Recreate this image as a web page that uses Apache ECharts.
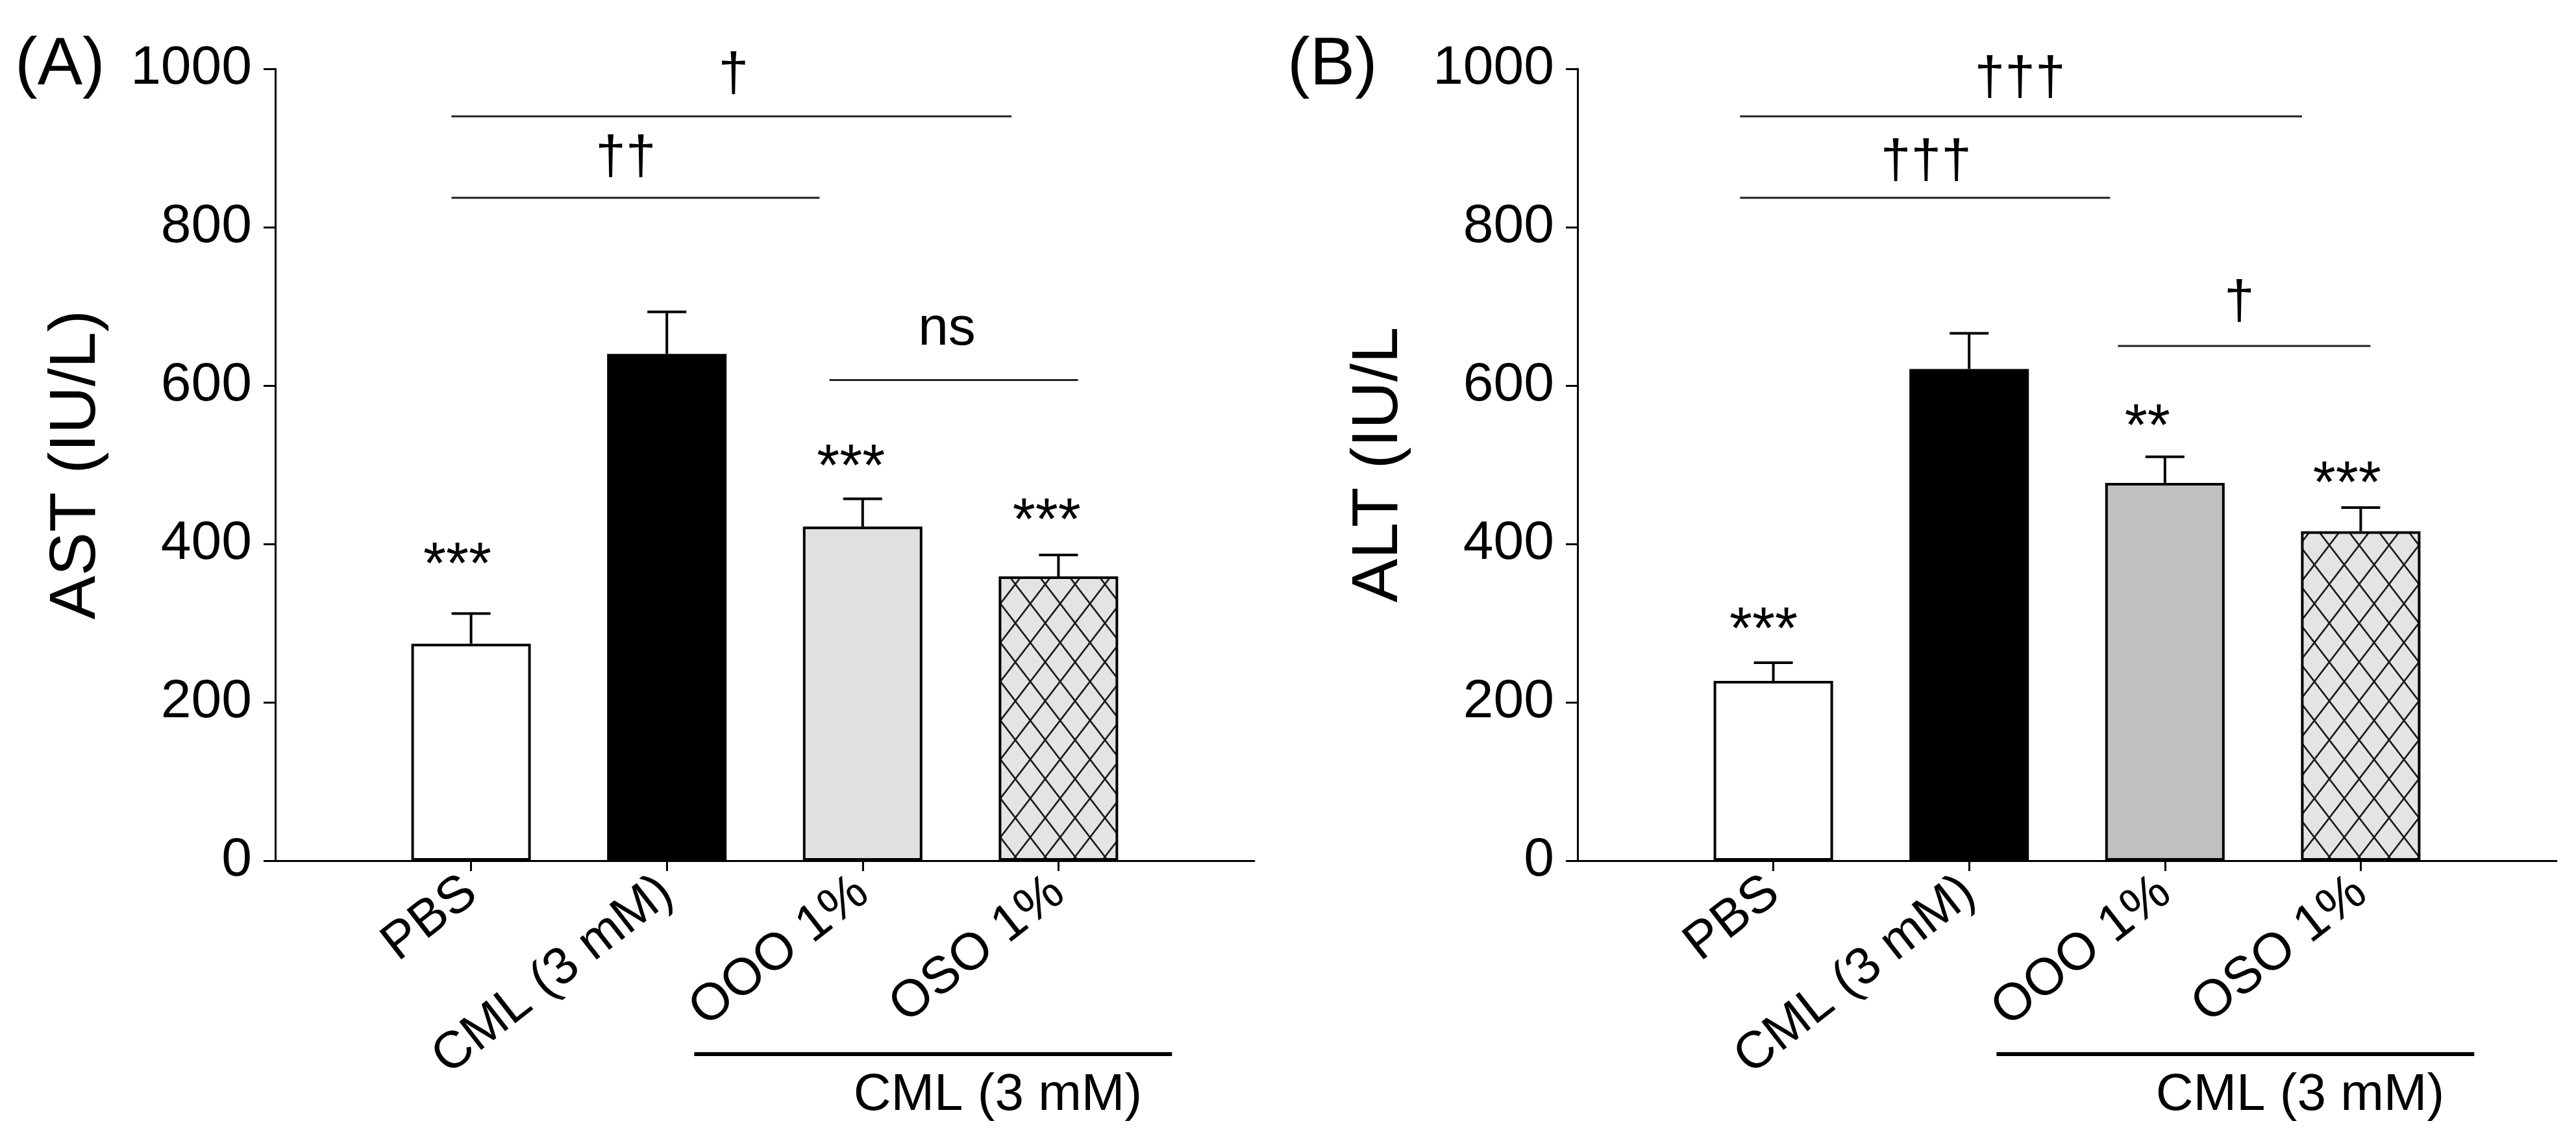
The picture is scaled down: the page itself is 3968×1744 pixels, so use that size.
<!DOCTYPE html>
<html>
<head>
<meta charset="utf-8">
<script src="https://cdn.jsdelivr.net/npm/echarts@6/dist/echarts.min.js"></script>
<style>
html,body{margin:0;padding:0;background:#fff;}
#c{width:3968px;height:1744px;}
</style>
</head>
<body>
<div id="c"></div>
<script>
// ---------- data ----------
const categories = ['PBS', 'CML (3 mM)', 'OOO 1%', 'OSO 1%'];
const astMean = [274, 640, 422, 359];
const astErr = [38, 53, 35, 27];
const altMean = [227, 621, 477, 416];
const altErr = [23, 45, 33, 30];
const yTicks = [0, 200, 400, 600, 800, 1000];
const panelLabels = ['(A)', '(B)'];
const yTitles = ['AST (IU/L)', 'ALT (IU/L'];
const groupLabel = 'CML (3 mM)';

// significance brackets: [xStart, xEnd, y] in category units / y units
const astBrackets = [[0.90, 3.76, 940], [0.90, 2.78, 837], [2.83, 4.10, 607]];
const altBrackets = [[0.83, 3.70, 940], [0.83, 2.72, 837], [2.76, 4.05, 650]];
const astBracketText = ['†', '††', 'ns'];
const altBracketText = ['†††', '†††', '†'];
const astBracketTextPos = [[2.34, 991], [1.79, 886], [3.43, 671]];
const altBracketTextPos = [[2.26, 986], [1.78, 881], [3.38, 703]];
// star annotations
const astStars = ['***', '', '***', '***'];
const altStars = ['***', '', '**', '***'];
const astStarPos = [[0.93, 370], [2.94, 494], [3.94, 426]];
const altStarPos = [[0.95, 288], [2.91, 545], [3.93, 473]];
// group underline under the two treated bars: [xStart, xEnd], label x
const groupLine = [2.14, 4.58];
const groupTextX = 3.69;

// ---------- styles ----------
const FONT = "'Liberation Sans', Arial, sans-serif";
function hatch() {
  const w = 46, h = 60;
  const cv = document.createElement('canvas');
  cv.width = w; cv.height = h;
  const g = cv.getContext('2d');
  g.fillStyle = '#e4e4e4';
  g.fillRect(0, 0, w, h);
  g.strokeStyle = '#1a1a1a';
  g.lineWidth = 2.6;
  g.beginPath();
  g.moveTo(0, 0); g.lineTo(w, h);
  g.moveTo(w, 0); g.lineTo(0, h);
  g.moveTo(-w / 2, h / 2); g.lineTo(w / 2, h * 1.5);
  g.moveTo(w / 2, -h / 2); g.lineTo(w * 1.5, h / 2);
  g.moveTo(w / 2, -h / 2); g.lineTo(-w / 2, h / 2);
  g.moveTo(w * 1.5, h / 2); g.lineTo(w / 2, h * 1.5);
  g.stroke();
  return cv;
}
const hatchImg = hatch();
const fillsA = ['#ffffff', '#000000', '#e0e0e0', {image: hatchImg, repeat: 'repeat'}];
const fillsB = ['#ffffff', '#000000', '#c0c0c0', {image: hatchImg, repeat: 'repeat'}];

const chart = echarts.init(document.getElementById('c'), null, {renderer: 'canvas'});

const grids = [
  {left: 424, top: 106, width: 1508, height: 1220},
  {left: 2430, top: 106, width: 1508, height: 1220}
];

function xCat(gi) {
  return {
    type: 'category', gridIndex: gi, boundaryGap: false,
    data: [''].concat(categories).concat(['']),
    axisLine: {lineStyle: {color: '#000', width: 3}},
    axisTick: {show: true, length: 16, lineStyle: {color: '#000', width: 3},
      interval: function (i) { return i >= 1 && i <= categories.length; }},
    axisLabel: {interval: 0, rotate: 38, margin: 40, color: '#000',
      fontFamily: FONT, fontSize: 80},
    splitLine: {show: false}
  };
}
function xVal(gi) {
  return {type: 'value', gridIndex: gi, min: 0, max: categories.length + 1, show: false};
}
function yAx(gi) {
  return {
    type: 'value', gridIndex: gi, min: yTicks[0], max: yTicks[yTicks.length - 1],
    interval: yTicks[1] - yTicks[0],
    name: yTitles[gi], nameLocation: 'middle', nameGap: 255, nameRotate: 90,
    nameTextStyle: {color: '#000', fontFamily: FONT, fontSize: 101},
    axisLine: {show: true, lineStyle: {color: '#000', width: 3}},
    axisTick: {show: true, length: 18, lineStyle: {color: '#000', width: 3}},
    axisLabel: {margin: 36, color: '#000', fontFamily: FONT, fontSize: 84,
      formatter: function (v) { return String(v); }},
    splitLine: {show: false}
  };
}

function barSeries(gi, means, fills) {
  return {
    type: 'bar', xAxisIndex: gi * 2, yAxisIndex: gi, barWidth: 184, z: 2,
    data: ['-'].concat(means.map(function (v, i) {
      return {value: v, itemStyle: {color: fills[i], borderColor: '#000', borderWidth: 4}};
    })).concat(['-']),
    silent: true
  };
}
function errSeries(gi, means, errs) {
  return {
    type: 'custom', xAxisIndex: gi * 2, yAxisIndex: gi, z: 3, silent: true,
    data: means.map(function (v, i) { return [i + 1, v, v + errs[i]]; }),
    renderItem: function (params, api) {
      const p0 = api.coord([api.value(0), api.value(1)]);
      const p1 = api.coord([api.value(0), api.value(2)]);
      const hw = 30;
      return {type: 'group', children: [
        {type: 'line', shape: {x1: p0[0], y1: p0[1], x2: p1[0], y2: p1[1]}, style: {stroke: '#000', lineWidth: 4}},
        {type: 'line', shape: {x1: p1[0] - hw, y1: p1[1], x2: p1[0] + hw, y2: p1[1]}, style: {stroke: '#000', lineWidth: 4}}
      ]};
    }
  };
}
function bracketSeries(gi, brackets) {
  return {
    type: 'custom', xAxisIndex: gi * 2 + 1, yAxisIndex: gi, z: 4, silent: true,
    data: brackets,
    renderItem: function (params, api) {
      const a = api.coord([api.value(0), api.value(2)]);
      const b = api.coord([api.value(1), api.value(2)]);
      return {type: 'line', shape: {x1: a[0], y1: a[1], x2: b[0], y2: b[1]},
        style: {stroke: '#222', lineWidth: 3}};
    }
  };
}
function textSeries(gi, pos, labels, size) {
  return {
    type: 'custom', xAxisIndex: gi * 2 + 1, yAxisIndex: gi, z: 5, silent: true,
    data: pos,
    renderItem: function (params, api) {
      const p = api.coord([api.value(0), api.value(1)]);
      return {type: 'text', x: p[0], y: p[1],
        style: {text: labels[params.dataIndex], fill: '#000', font: size + 'px ' + FONT,
          align: 'center', verticalAlign: 'middle'}};
    }
  };
}
function groupSeries(gi) {
  return {
    type: 'custom', xAxisIndex: gi * 2 + 1, yAxisIndex: gi, z: 5, silent: true, clip: false,
    data: [[groupLine[0], groupLine[1], groupTextX]],
    renderItem: function (params, api) {
      const a = api.coord([api.value(0), 0]);
      const b = api.coord([api.value(1), 0]);
      const t = api.coord([api.value(2), 0]);
      return {type: 'group', children: [
        {type: 'line', shape: {x1: a[0], y1: a[1] + 298, x2: b[0], y2: b[1] + 298},
          style: {stroke: '#000', lineWidth: 6}},
        {type: 'text', x: t[0], y: t[1] + 362,
          style: {text: groupLabel, fill: '#000', font: '80px ' + FONT, align: 'center', verticalAlign: 'middle'}}
      ]};
    }
  };
}

const astStarLabels = astStars.filter(function (s) { return s; });
const altStarLabels = altStars.filter(function (s) { return s; });

chart.setOption({
  animation: false,
  backgroundColor: '#fff',
  title: [
    {text: panelLabels[0], left: 18, top: 44, textStyle: {fontFamily: FONT, fontSize: 104, fontWeight: 'normal', color: '#000'}},
    {text: panelLabels[1], left: 1978, top: 44, textStyle: {fontFamily: FONT, fontSize: 104, fontWeight: 'normal', color: '#000'}}
  ],
  grid: grids,
  xAxis: [xCat(0), xVal(0), xCat(1), xVal(1)],
  yAxis: [yAx(0), yAx(1)],
  series: [
    barSeries(0, astMean, fillsA),
    errSeries(0, astMean, astErr),
    bracketSeries(0, astBrackets),
    textSeries(0, astBracketTextPos, astBracketText, 84),
    textSeries(0, astStarPos, astStarLabels, 90),
    groupSeries(0),
    barSeries(1, altMean, fillsB),
    errSeries(1, altMean, altErr),
    bracketSeries(1, altBrackets),
    textSeries(1, altBracketTextPos, altBracketText, 84),
    textSeries(1, altStarPos, altStarLabels, 90),
    groupSeries(1)
  ]
});
</script>
</body>
</html>
